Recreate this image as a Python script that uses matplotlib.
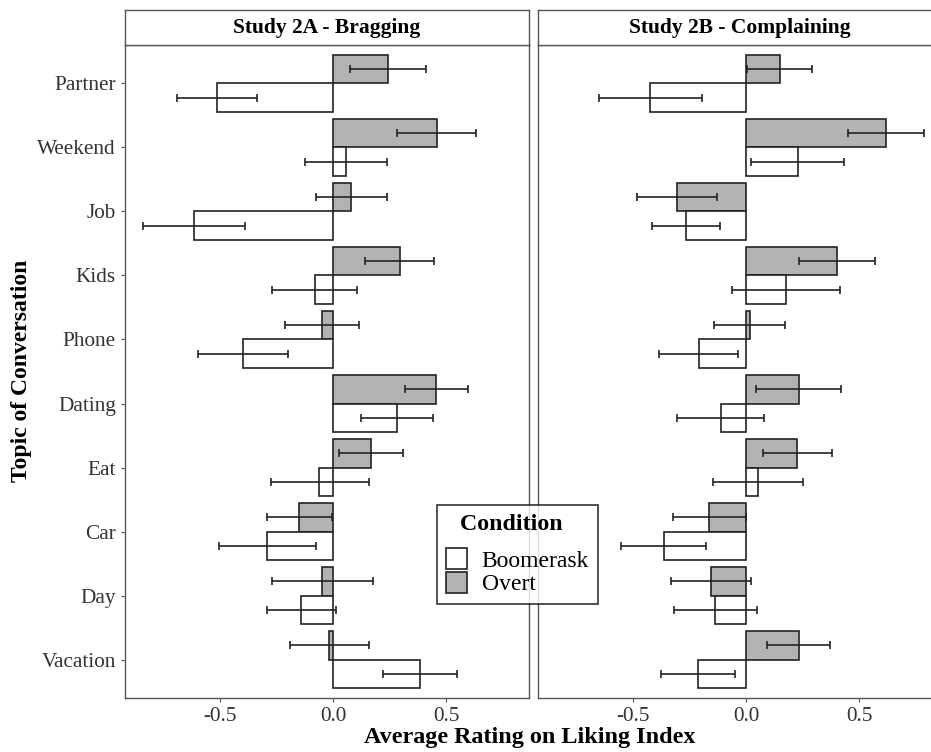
import numpy as np
import matplotlib.pyplot as plt
from matplotlib.patches import Patch

plt.rcParams['font.family'] = ['Liberation Serif', 'DejaVu Serif']

topics = ["Partner", "Weekend", "Job", "Kids", "Phone",
          "Dating", "Eat", "Car", "Day", "Vacation"]

# Study 2A - Bragging
brag_overt = [0.242, 0.457, 0.080, 0.295, -0.050, 0.456, 0.165, -0.150, -0.050, -0.018]
brag_overt_lo = [0.074, 0.283, -0.077, 0.142, -0.214, 0.317, 0.024, -0.295, -0.273, -0.193]
brag_overt_hi = [0.409, 0.631, 0.237, 0.447, 0.115, 0.594, 0.307, -0.006, 0.176, 0.159]
brag_boom = [-0.516, 0.058, -0.617, -0.083, -0.400, 0.283, -0.062, -0.293, -0.143, 0.385]
brag_boom_lo = [-0.693, -0.124, -0.842, -0.270, -0.599, 0.122, -0.276, -0.506, -0.295, 0.221]
brag_boom_hi = [-0.338, 0.237, -0.389, 0.106, -0.199, 0.441, 0.156, -0.077, 0.012, 0.549]

# Study 2B - Complaining
comp_overt = [0.149, 0.618, -0.308, 0.403, 0.015, 0.232, 0.226, -0.164, -0.158, 0.232]
comp_overt_lo = [0.004, 0.448, -0.484, 0.233, -0.142, 0.044, 0.074, -0.324, -0.332, 0.093]
comp_overt_hi = [0.292, 0.788, -0.131, 0.571, 0.173, 0.419, 0.378, 0.000, 0.019, 0.369]
comp_boom = [-0.426, 0.227, -0.268, 0.176, -0.211, -0.114, 0.052, -0.364, -0.137, -0.215]
comp_boom_lo = [-0.653, 0.019, -0.419, -0.063, -0.385, -0.305, -0.146, -0.553, -0.320, -0.379]
comp_boom_hi = [-0.196, 0.434, -0.117, 0.414, -0.035, 0.078, 0.249, -0.177, 0.046, -0.049]

W, H = 931, 752
fig = plt.figure(figsize=(W / 100, H / 100), dpi=100)

edge = "#222222"
grey = "#b3b3b3"
frame = "#555555"


def px(x0, y0, w, h):
    return [x0 / W, 1 - (y0 + h) / H, w / W, h / H]


def panel(rect, title, overt, olo, ohi, boom, blo, bhi, show_y):
    ax = fig.add_axes(px(*rect))
    y = np.arange(len(topics))
    bw = 0.45
    overt = np.array(overt)
    boom = np.array(boom)
    ax.barh(y - bw / 2, overt, height=bw, color=grey, edgecolor=edge, linewidth=1.2)
    ax.barh(y + bw / 2, boom, height=bw, color="white", edgecolor=edge, linewidth=1.2)
    ax.errorbar(overt, y - bw / 2,
                xerr=[overt - np.array(olo), np.array(ohi) - overt],
                fmt="none", ecolor=edge, elinewidth=1.2, capsize=2.6, capthick=1.2)
    ax.errorbar(boom, y + bw / 2,
                xerr=[boom - np.array(blo), np.array(bhi) - boom],
                fmt="none", ecolor=edge, elinewidth=1.2, capsize=2.6, capthick=1.2)
    ax.set_xlim(-0.922, 0.866)
    ax.set_ylim(len(topics) - 1 + 0.6, -0.6)
    ax.set_xticks([-0.5, 0.0, 0.5])
    ax.set_xticklabels(["-0.5", "0.0", "0.5"])
    ax.set_yticks(y)
    if show_y:
        ax.set_yticklabels(topics)
    else:
        ax.tick_params(axis="y", left=False, labelleft=False)
    ax.tick_params(labelsize=15.3, length=3, color=frame, colors="#333333", width=0.8)
    for s in ax.spines.values():
        s.set_color(frame)
        s.set_linewidth(1.0)
    # strip
    sx = fig.add_axes(px(rect[0], 10, rect[2], 35))
    sx.set_xticks([])
    sx.set_yticks([])
    for s in sx.spines.values():
        s.set_color(frame)
        s.set_linewidth(1.0)
    sx.text(0.5, 0.5, title, ha="center", va="center", fontsize=15.5,
            fontweight="bold", transform=sx.transAxes)
    return ax


ax1 = panel((125, 45, 404, 653), "Study 2A - Bragging",
            brag_overt, brag_overt_lo, brag_overt_hi,
            brag_boom, brag_boom_lo, brag_boom_hi, True)
ax2 = panel((538, 45, 404, 653), "Study 2B - Complaining",
            comp_overt, comp_overt_lo, comp_overt_hi,
            comp_boom, comp_boom_lo, comp_boom_hi, False)

fig.text(22 / W, 1 - 371 / H, "Topic of Conversation", rotation=90,
         ha="center", va="center", fontsize=17, fontweight="bold")
fig.text(530 / W, 1 - 738 / H, "Average Rating on Liking Index",
         ha="center", va="center", fontsize=17.4, fontweight="bold")

handles = [Patch(facecolor="white", edgecolor=edge, linewidth=1.2),
           Patch(facecolor=grey, edgecolor=edge, linewidth=1.2)]
leg = fig.legend(handles, ["Boomerask", "Overt"], title="Condition  ",
                 loc="upper left", bbox_to_anchor=(437 / W, 1 - 505 / H),
                 fontsize=17, title_fontproperties={"weight": "bold", "size": 17.2},
                 frameon=True, fancybox=False, edgecolor="black",
                 handlelength=0.93, handleheight=0.98, handletextpad=0.6,
                 labelspacing=0.0, borderpad=0.36, borderaxespad=0,
                 alignment="center")
leg.get_frame().set_linewidth(1.2)
# more room between legend title and keys, like ggplot
leg._legend_box.sep = 10

fig.savefig("out.png", dpi=100)
